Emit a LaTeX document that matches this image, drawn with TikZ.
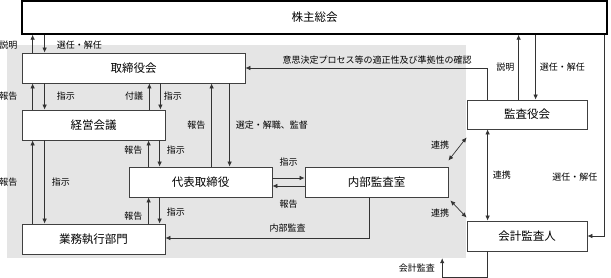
\documentclass[tikz,border=0pt]{standalone}
\usepackage{fontspec}
\setmainfont{Noto Sans CJK JP}
\usetikzlibrary{arrows.meta}

\begin{document}
\begin{tikzpicture}[x=1pt, y=-1pt,
    box/.style={draw=black!75, fill=white, line width=0.8pt, minimum height=30pt, inner sep=0pt, font=\fontsize{11.5}{12}\selectfont},
    lbl/.style={inner sep=0pt, font=\fontsize{9}{10}\selectfont},
    arr/.style={draw=black!80, line width=0.7pt, -{Latex[length=5pt,width=4.5pt]}},
    both/.style={arr, {Latex[length=5pt,width=4.5pt]}-{Latex[length=5pt,width=4.5pt]}}]

    \useasboundingbox (0,0) rectangle (611,278);

    % Fundo cinza (empresa)
    \node[fill=black!10, minimum width=459pt, minimum height=213pt, inner sep=0pt] (company) at (236.5,151.5) {};

    % Caixas
    \node[box, draw=black, line width=1.4pt, minimum width=585pt, minimum height=33pt] (kabunushi) at (314.5,17.5) {株主総会};
    \node[box, minimum width=223pt] (torishimari) at (133.5,68) {取締役会};
    \node[box, minimum width=143pt] (keiei) at (93.5,125) {経営会議};
    \node[box, minimum width=143pt] (daihyo) at (200.5,182) {代表取締役};
    \node[box, minimum width=143pt] (gyomu) at (93.5,239) {業務執行部門};
    \node[box, minimum width=143pt] (naibu) at (376.5,182) {内部監査室};
    \node[box, minimum width=120pt, minimum height=29pt] (kansayaku) at (527,114.5) {監査役会};
    \node[box, minimum width=120pt] (kaikei) at (527,236) {会計監査人};

    % Acionistas e conselho
    \draw[arr] ([xshift=11pt]torishimari.north west) -- node[lbl, left=15pt, yshift=-1.5pt] (l1) {説明} ([xshift=11pt]torishimari.north west |- kabunushi.south);
    \draw[arr] ([xshift=23pt]torishimari.north west |- kabunushi.south) -- node[lbl, right=12pt, yshift=-1.5pt] (l2) {選任・解任} ([xshift=23pt]torishimari.north west);

    % Conselho e comitê
    \draw[arr] ([xshift=11pt]keiei.north west) -- node[lbl, left=15pt] (l3) {報告} ([xshift=11pt]keiei.north west |- torishimari.south);
    \draw[arr] ([xshift=23pt]keiei.north west |- torishimari.south) -- node[lbl, right=12pt] (l4) {指示} ([xshift=23pt]keiei.north west);
    \draw[arr] ([xshift=-16pt]keiei.north east) -- node[lbl, left=6pt] (l5) {付議} ([xshift=-16pt]keiei.north east |- torishimari.south);
    \draw[arr] ([xshift=-5pt]keiei.north east |- torishimari.south) -- node[lbl, right=3pt] (l6) {指示} ([xshift=-5pt]keiei.north east);

    % Conselho e diretor
    \draw[arr] ([xshift=83pt]daihyo.north west) -- node[lbl, left=6pt] (l7) {報告} ([xshift=83pt]daihyo.north west |- torishimari.south);
    \draw[arr] ([xshift=101pt]daihyo.north west |- torishimari.south) -- node[lbl, right=6pt] (l8) {選定・解職、監督} ([xshift=101pt]daihyo.north west);

    % Comitê e diretor
    \draw[arr] ([xshift=20pt]daihyo.north west) -- node[lbl, left=6pt, yshift=3.5pt] (l9) {報告} ([xshift=20pt]daihyo.north west |- keiei.south);
    \draw[arr] ([xshift=31pt]daihyo.north west |- keiei.south) -- node[lbl, right=7pt, yshift=3.5pt] (l10) {指示} ([xshift=31pt]daihyo.north west);

    % Comitê e execução
    \draw[arr] ([xshift=11pt]gyomu.north west) -- node[lbl, left=15pt] (l11) {報告} ([xshift=11pt]keiei.south west);
    \draw[arr] ([xshift=23pt]keiei.south west) -- node[lbl, right=7pt] (l12) {指示} ([xshift=23pt]gyomu.north west);

    % Diretor e execução
    \draw[arr] ([xshift=20pt]daihyo.south west |- gyomu.north) -- node[lbl, left=6pt, yshift=-5.5pt] (l13) {報告} ([xshift=20pt]daihyo.south west);
    \draw[arr] ([xshift=31pt]daihyo.south west) -- node[lbl, right=7pt, yshift=-1.5pt] (l14) {指示} ([xshift=31pt]daihyo.south west |- gyomu.north);

    % Auditoria interna
    \draw[arr] ([yshift=4pt]daihyo.east) -- node[lbl, above=11pt] (l15) {指示} ([yshift=4pt]naibu.west);
    \draw[arr] ([yshift=-4pt]naibu.west) -- node[lbl, below=14pt] (l16) {報告} ([yshift=-4pt]daihyo.east);
    \draw[arr] ([xshift=-7.5pt]naibu.south) |- node[lbl, pos=0.7, above=5pt] (l17) {内部監査} ([yshift=1pt]gyomu.east);

    % Auditores
    \draw[arr] ([xshift=21pt]kansayaku.north west) |- node[lbl, pos=0.728, above=3.5pt] (l18) {意思決定プロセス等の適正性及び準拠性の確認} (torishimari.east);
    \draw[arr] ([xshift=52pt]kansayaku.north west) -- node[lbl, left=4pt] (l19) {説明} ([xshift=52pt]kansayaku.north west |- kabunushi.south);
    \draw[arr] ([xshift=69pt]kansayaku.north west |- kabunushi.south) -- node[lbl, right=4pt] (l20) {選任・解任} ([xshift=69pt]kansayaku.north west);
    \draw[arr] ([xshift=-3pt]kabunushi.south east) |- node[lbl, pos=0.354, left=7pt] (l21) {選任・解任} (kaikei.east);
    \draw[both] ([xshift=21pt]kansayaku.south west) -- node[lbl, right=5pt] (l22) {連携} ([xshift=21pt]kaikei.north west);
    \draw[both] ([yshift=6pt]naibu.north east) -- node[lbl, left=8pt, yshift=4pt] (l23) {連携} ([yshift=-8pt]kansayaku.south west);
    \draw[both] ([xshift=2pt,yshift=-3pt]naibu.south east) -- node[lbl, left=9pt, yshift=-4pt] (l24) {連携} ([yshift=3pt]kaikei.north west);
    \draw[arr] ([xshift=21pt]kaikei.south west) -- ++(0,26) -| node[lbl, pos=0.75, left=7pt] (l25) {会計監査} ([xshift=-24pt]company.south east);

\end{tikzpicture}
\end{document}
